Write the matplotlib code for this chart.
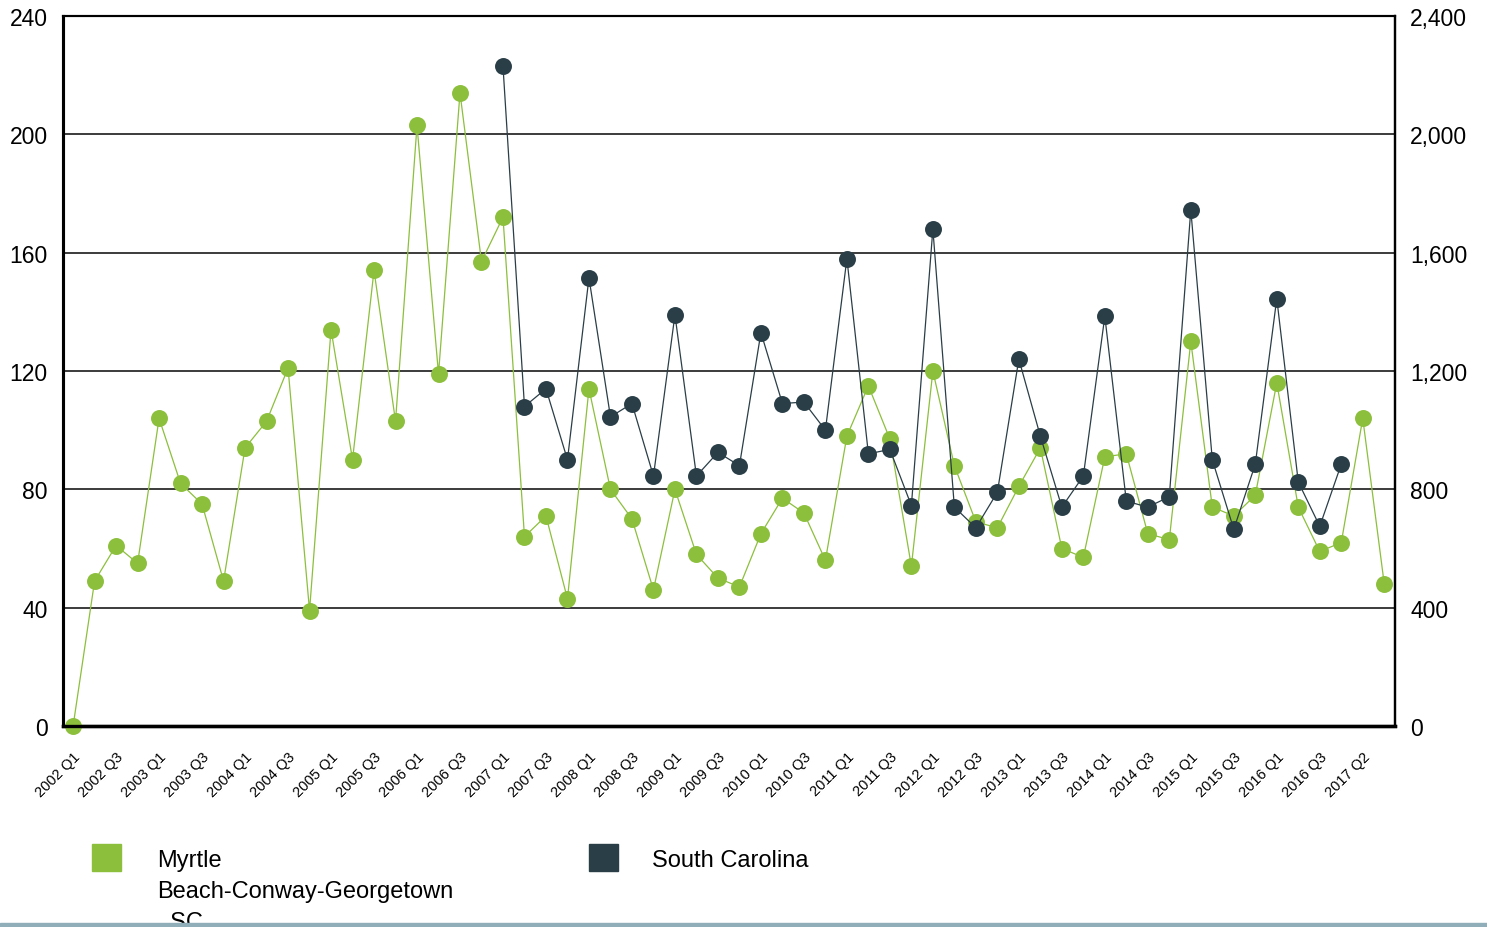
import numpy as np
import matplotlib
matplotlib.use("Agg")
import matplotlib.pyplot as plt
from matplotlib.patches import Rectangle
from matplotlib.ticker import FuncFormatter
import matplotlib.transforms as mtransforms

plt.rcParams['font.family'] = ['Liberation Sans', 'DejaVu Sans']

# ---- data ----
quarters = [f"{y} Q{q}" for y in range(2002, 2018) for q in range(1, 5)][:62]

myrtle_beach = [0, 49, 61, 55, 104, 82, 75, 49, 94, 103,
                121, 39, 134, 90, 154, 103, 203, 119, 214, 157,
                172, 64, 71, 43, 114, 80, 70, 46, 80, 58,
                50, 47, 65, 77, 72, 56, 98, 115, 97, 54,
                120, 88, 69, 67, 81, 94, 60, 57, 91, 92,
                65, 63, 130, 74, 71, 78, 116, 74, 59, 62,
                104, 48]

south_carolina = [None] * 20 + [
    2230, 1080, 1140, 900, 1515, 1045, 1090, 845, 1390, 845,
    925, 880, 1330, 1090, 1095, 1000, 1580, 920, 935, 745,
    1680, 740, 670, 790, 1240, 980, 740, 845, 1385, 760,
    740, 775, 1745, 900, 665, 885, 1445, 825, 675, 885] + [None] * 2

tick_labels = ['2002 Q1', '2002 Q3', '2003 Q1', '2003 Q3', '2004 Q1', '2004 Q3',
               '2005 Q1', '2005 Q3', '2006 Q1', '2006 Q3', '2007 Q1', '2007 Q3',
               '2008 Q1', '2008 Q3', '2009 Q1', '2009 Q3', '2010 Q1', '2010 Q3',
               '2011 Q1', '2011 Q3', '2012 Q1', '2012 Q3', '2013 Q1', '2013 Q3',
               '2014 Q1', '2014 Q3', '2015 Q1', '2015 Q3', '2016 Q1', '2016 Q3',
               '2017 Q2']

left_ticks = [0, 40, 80, 120, 160, 200, 240]
right_ticks = [0, 400, 800, 1200, 1600, 2000, 2400]

series_names = [["Myrtle", "Beach-Conway-Georgetown", ", SC"], ["South Carolina"]]
colors = ['#8CBF3C', '#2A3E47']

# ---- figure ----
W, H = 1487, 928
fig = plt.figure(figsize=(W / 100, H / 100), dpi=100)
ax = fig.add_axes([63 / W, 1 - 727 / H, (1395 - 63) / W, (727 - 17) / H])
ax2 = ax.twinx()

x = np.arange(len(quarters))
mb = np.array(myrtle_beach, dtype=float)
sc = np.array([np.nan if v is None else v for v in south_carolina], dtype=float)

ax.plot(x, mb, color=colors[0], lw=0.9, marker='o', ms=12.2,
        markeredgewidth=0, zorder=3, clip_on=False)
ax2.plot(x, sc, color=colors[1], lw=0.9, marker='o', ms=12.2,
         markeredgewidth=0, zorder=3, clip_on=False)

ax.set_xlim(-0.47, 61.5)
ax.set_ylim(0, 240)
ax2.set_ylim(0, 2400)
ax.set_yticks(left_ticks)
ax2.set_yticks(right_ticks)
ax2.yaxis.set_major_formatter(FuncFormatter(lambda v, p: f"{int(v):,}"))

for t in left_ticks[1:-1]:
    ax.axhline(t, color='#1a1a1a', lw=1.2, zorder=1)

ax.set_xticks(x[::2])
ax.set_xticklabels(tick_labels, rotation=45, ha='right', va='top',
                   rotation_mode='anchor', fontsize=10.5)
offset = mtransforms.ScaledTranslation(9 / 100, 0, fig.dpi_scale_trans)
for lab in ax.get_xticklabels():
    lab.set_transform(lab.get_transform() + offset)

ax.tick_params(axis='x', length=0, pad=17)
ax.tick_params(axis='y', length=0, pad=11, labelsize=16.5)
ax2.tick_params(axis='y', length=0, pad=11, labelsize=16.5)

for a in (ax, ax2):
    a.spines['left'].set_linewidth(2.2)
    a.spines['bottom'].set_linewidth(2.4)
    a.spines['right'].set_linewidth(1.6)
    a.spines['top'].set_linewidth(1.5)
    for s in a.spines.values():
        s.set_color('black')

# ---- legend ----
fs = 17
lx = [92, 589]
tx = [157, 652]
for i, name_lines in enumerate(series_names):
    fig.patches.append(Rectangle((lx[i] / W, 1 - 872 / H), 29 / W, 27 / H,
                                 transform=fig.transFigure, color=colors[i], zorder=2))
    for j, line in enumerate(name_lines):
        fig.text(tx[i] / W, 1 - (867 + 31 * j) / H, line, fontsize=fs,
                 va='baseline', ha='left', color='black', zorder=2)

fig.patches.append(Rectangle((0, 0), 1, 4.5 / H, transform=fig.transFigure,
                             color='#8FAEB9', zorder=5))

fig.savefig('out.png', dpi=100)
